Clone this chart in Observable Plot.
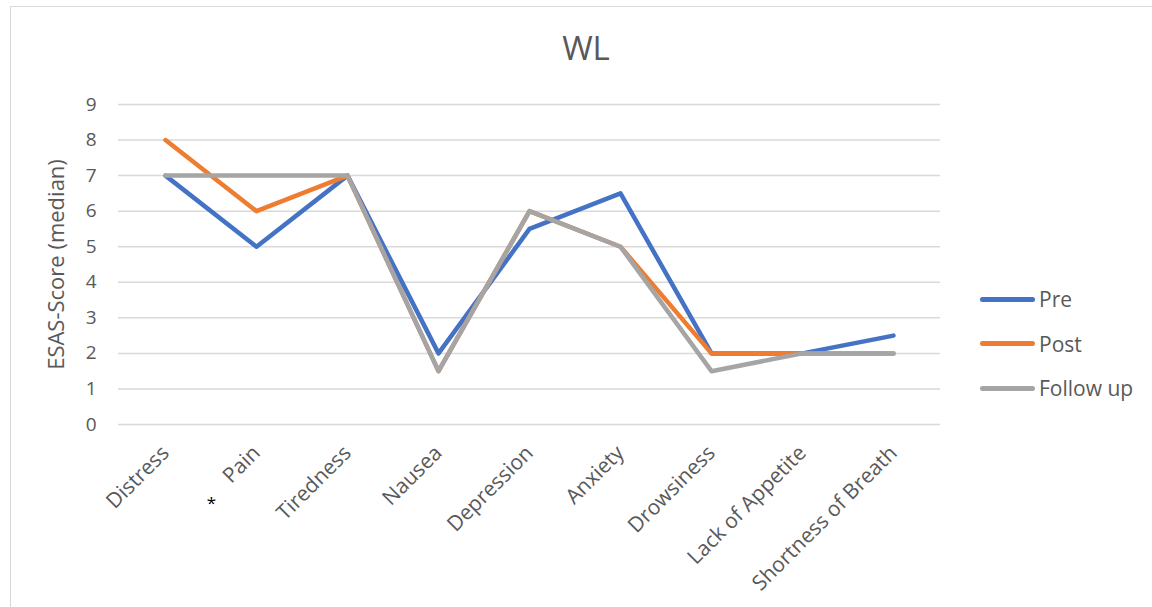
<!DOCTYPE html>
<html>
<head>
<meta charset="utf-8">
<script src="https://cdn.jsdelivr.net/npm/d3@7"></script>
<script src="https://cdn.jsdelivr.net/npm/@observablehq/plot@0.6"></script>
<style>
  html, body { margin: 0; padding: 0; background: #fff; }
  body { width: 1152px; height: 607px; overflow: hidden; position: relative;
         font-family: "Open Sans", "Noto Sans", sans-serif; color: #595959; }
  #frame { position: absolute; left: 10px; top: 6px; width: 1200px; height: 700px;
           border-left: 1.5px solid #d9d9d9; border-top: 1.5px solid #d9d9d9; box-sizing: border-box; }
  #chart { position: absolute; left: 0; top: 0; }
  #title { position: absolute; left: 0; width: 1172px; top: 28px; text-align: center;
           font-size: 33px; line-height: 40px; color: #595959; }
  #legend { position: absolute; left: 980px; top: 277px; }
  .item { display: flex; align-items: center; height: 44.5px; font-size: 21px; color: #595959; }
  .swatch { width: 55px; height: 5px; border-radius: 3px; margin-right: 4px; }
</style>
</head>
<body>
<div id="frame"></div>
<div id="chart"></div>
<div id="title">WL</div>
<div id="legend"></div>
<script>
const symptoms = ["Distress", "Pain", "Tiredness", "Nausea", "Depression", "Anxiety",
                  "Drowsiness", "Lack of Appetite", "Shortness of Breath"];
const pre      = [7, 5, 7, 2,   5.5, 6.5, 2,   2, 2.5];
const post     = [8, 6, 7, 1.5, 6,   5,   2,   2, 2];
const followUp = [7, 7, 7, 1.5, 6,   5,   1.5, 2, 2];
const seriesNames = ["Pre", "Post", "Follow up"];
const seriesColors = ["#4472C4", "#ED7D31", "#A5A5A5"];
const yTicks = [0, 1, 2, 3, 4, 5, 6, 7, 8, 9];

const rows = [pre, post, followUp].flatMap((vals, i) =>
  vals.map((v, j) => ({series: seriesNames[i], symptom: symptoms[j], value: v})));

const plot = Plot.plot({
  width: 1152,
  height: 607,
  marginTop: 104,
  marginBottom: 183,
  marginLeft: 118,
  marginRight: 212,
  style: {fontFamily: "'Open Sans', 'Noto Sans', sans-serif", color: "#595959", background: "transparent"},
  x: {type: "point", domain: symptoms, padding: 0.5},
  y: {domain: [0, 9]},
  color: {domain: seriesNames, range: seriesColors},
  marks: [
    Plot.gridY(yTicks, {stroke: "#d9d9d9", strokeOpacity: 1, strokeWidth: 1.5}),
    Plot.axisY(yTicks, {tickSize: 0, tickPadding: 22, fontSize: 19, fill: "#595959",
      label: "ESAS-Score (median)", labelAnchor: "center", labelArrow: "none", labelOffset: 70}),
    Plot.axisX({tickSize: 0, tickRotate: -45, tickPadding: 25, fontSize: 21, fill: "#595959", label: null}),
    Plot.line(rows, {x: "symptom", y: "value", z: "series", stroke: "series",
      strokeWidth: 4.5, strokeLinejoin: "round", strokeLinecap: "round"}),
    Plot.text(["*"], {x: () => "Pain", frameAnchor: "bottom", dx: -45, dy: 84,
      fontSize: 17, fill: "#000"})
  ]
});
// y-axis title size
plot.querySelectorAll("g[aria-label='y-axis label'] text").forEach(t => t.setAttribute("font-size", "22"));
document.getElementById("chart").appendChild(plot);

const legend = document.getElementById("legend");
seriesNames.forEach((name, i) => {
  const item = document.createElement("div");
  item.className = "item";
  item.innerHTML = `<span class="swatch" style="background:${seriesColors[i]}"></span><span>${name}</span>`;
  legend.appendChild(item);
});
</script>
</body>
</html>
